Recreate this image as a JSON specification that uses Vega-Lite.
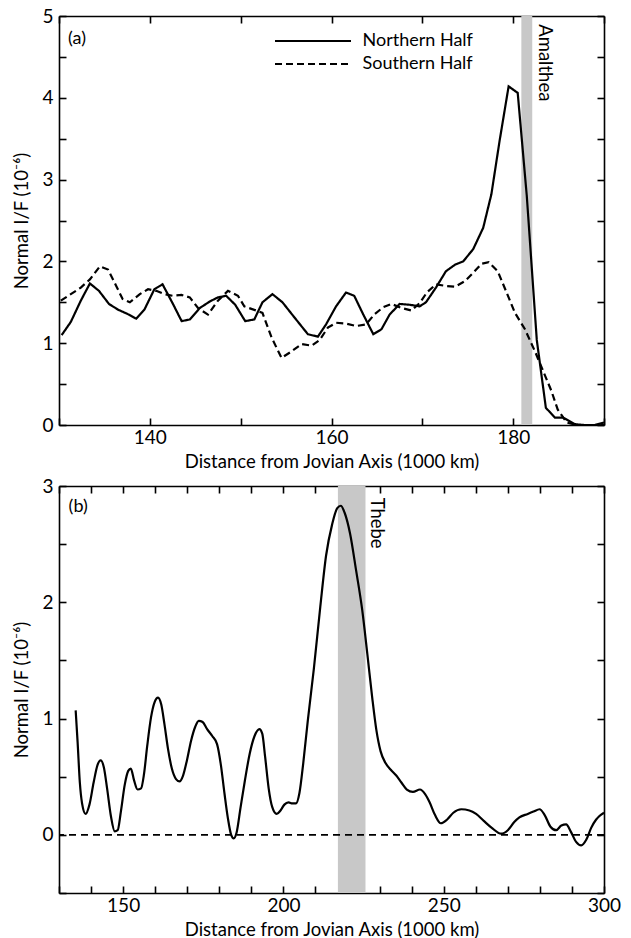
{
  "$schema": "https://vega.github.io/schema/vega-lite/v6.json",
  "padding": {"left": 12, "top": 7, "right": 5, "bottom": 5},
  "background": "white",
  "spacing": 6,
  "datasets": {
    "a": [
      {"x": 130.3, "y": 1.10, "series": "Northern Half"},
      {"x": 131.3, "y": 1.26, "series": "Northern Half"},
      {"x": 132.4, "y": 1.52, "series": "Northern Half"},
      {"x": 133.4, "y": 1.73, "series": "Northern Half"},
      {"x": 134.4, "y": 1.64, "series": "Northern Half"},
      {"x": 135.5, "y": 1.48, "series": "Northern Half"},
      {"x": 136.5, "y": 1.41, "series": "Northern Half"},
      {"x": 137.5, "y": 1.36, "series": "Northern Half"},
      {"x": 138.5, "y": 1.30, "series": "Northern Half"},
      {"x": 139.4, "y": 1.41, "series": "Northern Half"},
      {"x": 140.5, "y": 1.66, "series": "Northern Half"},
      {"x": 141.4, "y": 1.72, "series": "Northern Half"},
      {"x": 142.5, "y": 1.49, "series": "Northern Half"},
      {"x": 143.5, "y": 1.27, "series": "Northern Half"},
      {"x": 144.4, "y": 1.29, "series": "Northern Half"},
      {"x": 145.5, "y": 1.43, "series": "Northern Half"},
      {"x": 146.6, "y": 1.51, "series": "Northern Half"},
      {"x": 147.5, "y": 1.56, "series": "Northern Half"},
      {"x": 148.4, "y": 1.58, "series": "Northern Half"},
      {"x": 149.4, "y": 1.47, "series": "Northern Half"},
      {"x": 150.5, "y": 1.27, "series": "Northern Half"},
      {"x": 151.5, "y": 1.29, "series": "Northern Half"},
      {"x": 152.4, "y": 1.50, "series": "Northern Half"},
      {"x": 153.5, "y": 1.60, "series": "Northern Half"},
      {"x": 154.6, "y": 1.50, "series": "Northern Half"},
      {"x": 156.1, "y": 1.29, "series": "Northern Half"},
      {"x": 157.4, "y": 1.11, "series": "Northern Half"},
      {"x": 158.5, "y": 1.08, "series": "Northern Half"},
      {"x": 159.4, "y": 1.23, "series": "Northern Half"},
      {"x": 160.5, "y": 1.45, "series": "Northern Half"},
      {"x": 161.6, "y": 1.62, "series": "Northern Half"},
      {"x": 162.5, "y": 1.58, "series": "Northern Half"},
      {"x": 163.5, "y": 1.35, "series": "Northern Half"},
      {"x": 164.6, "y": 1.11, "series": "Northern Half"},
      {"x": 165.5, "y": 1.17, "series": "Northern Half"},
      {"x": 166.4, "y": 1.35, "series": "Northern Half"},
      {"x": 167.5, "y": 1.48, "series": "Northern Half"},
      {"x": 168.6, "y": 1.47, "series": "Northern Half"},
      {"x": 169.7, "y": 1.45, "series": "Northern Half"},
      {"x": 170.4, "y": 1.50, "series": "Northern Half"},
      {"x": 171.5, "y": 1.68, "series": "Northern Half"},
      {"x": 172.6, "y": 1.88, "series": "Northern Half"},
      {"x": 173.6, "y": 1.96, "series": "Northern Half"},
      {"x": 174.5, "y": 2.00, "series": "Northern Half"},
      {"x": 175.6, "y": 2.15, "series": "Northern Half"},
      {"x": 176.7, "y": 2.41, "series": "Northern Half"},
      {"x": 177.6, "y": 2.82, "series": "Northern Half"},
      {"x": 178.5, "y": 3.47, "series": "Northern Half"},
      {"x": 179.5, "y": 4.14, "series": "Northern Half"},
      {"x": 180.5, "y": 4.06, "series": "Northern Half"},
      {"x": 181.5, "y": 2.80, "series": "Northern Half"},
      {"x": 182.6, "y": 1.04, "series": "Northern Half"},
      {"x": 183.6, "y": 0.21, "series": "Northern Half"},
      {"x": 184.6, "y": 0.09, "series": "Northern Half"},
      {"x": 185.5, "y": 0.09, "series": "Northern Half"},
      {"x": 186.8, "y": 0.01, "series": "Northern Half"},
      {"x": 187.8, "y": 0.0, "series": "Northern Half"},
      {"x": 189.0, "y": 0.0, "series": "Northern Half"},
      {"x": 190.0, "y": 0.03, "series": "Northern Half"},
      {"x": 130.2, "y": 1.52, "series": "Southern Half"},
      {"x": 131.3, "y": 1.60, "series": "Southern Half"},
      {"x": 132.4, "y": 1.68, "series": "Southern Half"},
      {"x": 133.4, "y": 1.78, "series": "Southern Half"},
      {"x": 134.5, "y": 1.94, "series": "Southern Half"},
      {"x": 135.4, "y": 1.90, "series": "Southern Half"},
      {"x": 136.3, "y": 1.70, "series": "Southern Half"},
      {"x": 137.0, "y": 1.54, "series": "Southern Half"},
      {"x": 137.8, "y": 1.50, "series": "Southern Half"},
      {"x": 138.9, "y": 1.60, "series": "Southern Half"},
      {"x": 139.8, "y": 1.66, "series": "Southern Half"},
      {"x": 140.7, "y": 1.64, "series": "Southern Half"},
      {"x": 141.6, "y": 1.60, "series": "Southern Half"},
      {"x": 142.5, "y": 1.58, "series": "Southern Half"},
      {"x": 143.5, "y": 1.59, "series": "Southern Half"},
      {"x": 144.4, "y": 1.56, "series": "Southern Half"},
      {"x": 145.3, "y": 1.43, "series": "Southern Half"},
      {"x": 146.4, "y": 1.35, "series": "Southern Half"},
      {"x": 147.5, "y": 1.52, "series": "Southern Half"},
      {"x": 148.6, "y": 1.64, "series": "Southern Half"},
      {"x": 149.7, "y": 1.58, "series": "Southern Half"},
      {"x": 150.4, "y": 1.45, "series": "Southern Half"},
      {"x": 151.7, "y": 1.40, "series": "Southern Half"},
      {"x": 152.4, "y": 1.37, "series": "Southern Half"},
      {"x": 153.4, "y": 1.07, "series": "Southern Half"},
      {"x": 154.5, "y": 0.82, "series": "Southern Half"},
      {"x": 155.6, "y": 0.90, "series": "Southern Half"},
      {"x": 156.7, "y": 0.99, "series": "Southern Half"},
      {"x": 157.8, "y": 0.97, "series": "Southern Half"},
      {"x": 158.7, "y": 1.04, "series": "Southern Half"},
      {"x": 159.6, "y": 1.19, "series": "Southern Half"},
      {"x": 160.5, "y": 1.25, "series": "Southern Half"},
      {"x": 161.6, "y": 1.24, "series": "Southern Half"},
      {"x": 162.7, "y": 1.21, "series": "Southern Half"},
      {"x": 163.8, "y": 1.23, "series": "Southern Half"},
      {"x": 164.7, "y": 1.35, "series": "Southern Half"},
      {"x": 165.7, "y": 1.44, "series": "Southern Half"},
      {"x": 166.6, "y": 1.48, "series": "Southern Half"},
      {"x": 167.7, "y": 1.43, "series": "Southern Half"},
      {"x": 168.8, "y": 1.40, "series": "Southern Half"},
      {"x": 169.7, "y": 1.49, "series": "Southern Half"},
      {"x": 170.5, "y": 1.62, "series": "Southern Half"},
      {"x": 171.5, "y": 1.72, "series": "Southern Half"},
      {"x": 172.6, "y": 1.70, "series": "Southern Half"},
      {"x": 173.6, "y": 1.69, "series": "Southern Half"},
      {"x": 174.7, "y": 1.76, "series": "Southern Half"},
      {"x": 175.6, "y": 1.86, "series": "Southern Half"},
      {"x": 176.5, "y": 1.97, "series": "Southern Half"},
      {"x": 177.3, "y": 1.99, "series": "Southern Half"},
      {"x": 178.3, "y": 1.88, "series": "Southern Half"},
      {"x": 179.2, "y": 1.64, "series": "Southern Half"},
      {"x": 180.2, "y": 1.37, "series": "Southern Half"},
      {"x": 181.3, "y": 1.17, "series": "Southern Half"},
      {"x": 182.4, "y": 0.90, "series": "Southern Half"},
      {"x": 183.3, "y": 0.66, "series": "Southern Half"},
      {"x": 184.2, "y": 0.42, "series": "Southern Half"},
      {"x": 184.9, "y": 0.19, "series": "Southern Half"},
      {"x": 185.9, "y": 0.03, "series": "Southern Half"},
      {"x": 187.0, "y": 0.0, "series": "Southern Half"},
      {"x": 190.0, "y": 0.0, "series": "Southern Half"}
    ],
    "b": [
      {"x": 135.2, "y": 1.07}, {"x": 135.8, "y": 0.80}, {"x": 136.5, "y": 0.45}, {"x": 137.2, "y": 0.27},
      {"x": 138.3, "y": 0.18}, {"x": 139.5, "y": 0.26}, {"x": 140.8, "y": 0.45}, {"x": 142.0, "y": 0.60},
      {"x": 143.0, "y": 0.64}, {"x": 144.0, "y": 0.58}, {"x": 145.0, "y": 0.40}, {"x": 146.2, "y": 0.16},
      {"x": 147.4, "y": 0.03}, {"x": 148.3, "y": 0.04}, {"x": 149.3, "y": 0.20}, {"x": 150.5, "y": 0.43},
      {"x": 151.6, "y": 0.55}, {"x": 152.4, "y": 0.57}, {"x": 153.4, "y": 0.47}, {"x": 154.5, "y": 0.39},
      {"x": 155.6, "y": 0.40}, {"x": 156.5, "y": 0.52}, {"x": 157.5, "y": 0.76}, {"x": 158.7, "y": 1.01},
      {"x": 159.8, "y": 1.14}, {"x": 160.9, "y": 1.18}, {"x": 161.9, "y": 1.12}, {"x": 162.9, "y": 0.95},
      {"x": 164.0, "y": 0.74}, {"x": 165.2, "y": 0.57}, {"x": 166.5, "y": 0.48}, {"x": 167.6, "y": 0.46},
      {"x": 168.7, "y": 0.51}, {"x": 169.9, "y": 0.64}, {"x": 171.2, "y": 0.81}, {"x": 172.5, "y": 0.93},
      {"x": 173.6, "y": 0.98}, {"x": 174.8, "y": 0.97}, {"x": 176.2, "y": 0.91}, {"x": 177.8, "y": 0.85},
      {"x": 179.3, "y": 0.78}, {"x": 180.5, "y": 0.60}, {"x": 181.6, "y": 0.36}, {"x": 182.7, "y": 0.14},
      {"x": 183.7, "y": 0.0}, {"x": 184.5, "y": -0.03}, {"x": 185.4, "y": 0.02}, {"x": 186.6, "y": 0.23},
      {"x": 188.0, "y": 0.47}, {"x": 189.5, "y": 0.70}, {"x": 191.0, "y": 0.85}, {"x": 192.5, "y": 0.91},
      {"x": 193.4, "y": 0.87}, {"x": 194.3, "y": 0.67}, {"x": 195.4, "y": 0.40}, {"x": 196.5, "y": 0.24},
      {"x": 197.9, "y": 0.18}, {"x": 199.1, "y": 0.21}, {"x": 200.3, "y": 0.26}, {"x": 201.6, "y": 0.28},
      {"x": 202.8, "y": 0.27}, {"x": 203.9, "y": 0.27}, {"x": 205.0, "y": 0.36}, {"x": 206.2, "y": 0.62},
      {"x": 207.6, "y": 0.98}, {"x": 209.5, "y": 1.43}, {"x": 211.5, "y": 1.96}, {"x": 213.3, "y": 2.40},
      {"x": 215.2, "y": 2.67}, {"x": 216.8, "y": 2.81}, {"x": 217.9, "y": 2.83}, {"x": 219.1, "y": 2.77},
      {"x": 220.8, "y": 2.59}, {"x": 222.7, "y": 2.27}, {"x": 224.6, "y": 1.93}, {"x": 226.2, "y": 1.55},
      {"x": 227.7, "y": 1.18}, {"x": 229.0, "y": 0.90}, {"x": 230.3, "y": 0.72}, {"x": 231.8, "y": 0.62},
      {"x": 233.5, "y": 0.56}, {"x": 235.2, "y": 0.51}, {"x": 236.8, "y": 0.45}, {"x": 238.5, "y": 0.39},
      {"x": 240.4, "y": 0.37}, {"x": 242.6, "y": 0.39}, {"x": 244.2, "y": 0.35}, {"x": 245.6, "y": 0.28},
      {"x": 247.3, "y": 0.17}, {"x": 249.1, "y": 0.10}, {"x": 251.0, "y": 0.13}, {"x": 253.0, "y": 0.19},
      {"x": 255.5, "y": 0.22}, {"x": 258.0, "y": 0.21}, {"x": 260.1, "y": 0.18}, {"x": 262.5, "y": 0.12},
      {"x": 265.0, "y": 0.06}, {"x": 267.9, "y": 0.01}, {"x": 270.0, "y": 0.04}, {"x": 272.0, "y": 0.11},
      {"x": 273.6, "y": 0.15}, {"x": 276.2, "y": 0.18}, {"x": 278.0, "y": 0.20}, {"x": 279.9, "y": 0.22},
      {"x": 281.5, "y": 0.17}, {"x": 283.3, "y": 0.07}, {"x": 285.1, "y": 0.04}, {"x": 286.7, "y": 0.08},
      {"x": 288.2, "y": 0.09}, {"x": 289.6, "y": 0.03}, {"x": 291.3, "y": -0.06}, {"x": 292.9, "y": -0.09},
      {"x": 294.5, "y": -0.04}, {"x": 296.0, "y": 0.06}, {"x": 297.5, "y": 0.13}, {"x": 298.5, "y": 0.16},
      {"x": 300.0, "y": 0.19}
    ]
  },
  "vconcat": [
    {
      "width": 545,
      "height": 409,
      "resolve": {"axis": {"x": "independent", "y": "independent"}},
      "layer": [
        {
          "data": {"values": [{"band": "Amalthea"}]},
          "mark": {"type": "rect", "color": "#c8c8c8"},
          "encoding": {
            "x": {"datum": 180.9, "type": "quantitative", "axis": null},
            "x2": {"datum": 182.1}
          }
        },
        {
          "data": {"name": "a"},
          "mark": {"type": "line", "color": "black", "strokeWidth": 2.2},
          "encoding": {
            "x": {
              "field": "x", "type": "quantitative",
              "scale": {"domain": [130, 190], "nice": false, "zero": false},
              "axis": {
                "title": "Distance from Jovian Axis (1000 km)",
                "values": [130, 140, 150, 160, 170, 180, 190],
                "labelExpr": "datum.value % 20 === 0 ? '' + datum.value : ''"
              }
            },
            "y": {
              "field": "y", "type": "quantitative",
              "scale": {"domain": [0, 5], "nice": false},
              "axis": {
                "title": "Normal I/F (10⁻⁶)",
                "values": [0, 0.5, 1, 1.5, 2, 2.5, 3, 3.5, 4, 4.5, 5],
                "labelExpr": "datum.value % 1 === 0 ? '' + datum.value : ''"
              }
            },
            "strokeDash": {
              "field": "series", "type": "nominal",
              "scale": {"domain": ["Northern Half", "Southern Half"], "range": [[1, 0], [7, 4]]},
              "legend": {
                "title": null, "orient": "none", "legendX": 243, "legendY": 14,
                "symbolType": "M-4,0H4", "symbolSize": 361, "symbolStrokeWidth": 2.2,
                "symbolStrokeColor": "black", "symbolFillColor": "transparent", "labelFontSize": 18, "labelFont": "Lato",
                "labelColor": "black", "labelOffset": 38.5, "rowPadding": 3, "padding": 0
              }
            }
          }
        },
        {
          "data": {"values": [{"label": "Amalthea"}]},
          "mark": {"type": "text", "angle": 90, "align": "left", "baseline": "bottom", "fontSize": 18.5, "font": "Lato", "color": "black"},
          "encoding": {
            "text": {"field": "label"},
            "x": {"datum": 182.4, "type": "quantitative", "axis": null},
            "y": {"datum": 4.9, "type": "quantitative", "axis": null}
          }
        },
        {
          "data": {"values": [{"label": "(a)"}]},
          "mark": {"type": "text", "align": "left", "baseline": "middle", "fontSize": 18, "font": "Lato", "color": "black"},
          "encoding": {
            "text": {"field": "label"},
            "x": {
              "datum": 131.0, "type": "quantitative",
              "scale": {"domain": [130, 190], "nice": false, "zero": false},
              "axis": {"orient": "top", "title": null, "labels": false, "values": [130, 140, 150, 160, 170, 180, 190]}
            },
            "y": {
              "datum": 4.72, "type": "quantitative",
              "scale": {"domain": [0, 5], "nice": false},
              "axis": {"orient": "right", "title": null, "labels": false, "values": [0, 0.5, 1, 1.5, 2, 2.5, 3, 3.5, 4, 4.5, 5]}
            }
          }
        }
      ]
    },
    {
      "width": 545,
      "height": 407,
      "resolve": {"axis": {"x": "independent", "y": "independent"}},
      "layer": [
        {
          "data": {"values": [{"band": "Thebe"}]},
          "mark": {"type": "rect", "color": "#c8c8c8"},
          "encoding": {
            "x": {"datum": 217.0, "type": "quantitative", "axis": null},
            "x2": {"datum": 225.6}
          }
        },
        {
          "data": {"values": [{"level": 0}]},
          "mark": {"type": "rule", "color": "black", "strokeWidth": 1.6, "strokeDash": [7, 5]},
          "encoding": {
            "y": {"field": "level", "type": "quantitative", "axis": null}
          }
        },
        {
          "data": {"name": "b"},
          "mark": {"type": "line", "color": "black", "strokeWidth": 2.2, "interpolate": "monotone"},
          "encoding": {
            "x": {
              "field": "x", "type": "quantitative",
              "scale": {"domain": [130, 300], "nice": false, "zero": false},
              "axis": {
                "title": "Distance from Jovian Axis (1000 km)",
                "values": [130, 140, 150, 160, 170, 180, 190, 200, 210, 220, 230, 240, 250, 260, 270, 280, 290, 300],
                "labelExpr": "datum.value % 50 === 0 ? '' + datum.value : ''"
              }
            },
            "y": {
              "field": "y", "type": "quantitative",
              "scale": {"domain": [-0.5, 3], "nice": false, "zero": false},
              "axis": {
                "title": "Normal I/F (10⁻⁶)",
                "values": [-0.5, 0, 0.5, 1, 1.5, 2, 2.5, 3],
                "labelExpr": "datum.value % 1 === 0 ? '' + datum.value : ''"
              }
            }
          }
        },
        {
          "data": {"values": [{"label": "Thebe"}]},
          "mark": {"type": "text", "angle": 90, "align": "left", "baseline": "bottom", "fontSize": 18.5, "font": "Lato", "color": "black"},
          "encoding": {
            "text": {"field": "label"},
            "x": {"datum": 226.0, "type": "quantitative", "axis": null},
            "y": {"datum": 2.9, "type": "quantitative", "axis": null}
          }
        },
        {
          "data": {"values": [{"label": "(b)"}]},
          "mark": {"type": "text", "align": "left", "baseline": "middle", "fontSize": 18, "font": "Lato", "color": "black"},
          "encoding": {
            "text": {"field": "label"},
            "x": {
              "datum": 133.0, "type": "quantitative",
              "scale": {"domain": [130, 300], "nice": false, "zero": false},
              "axis": {"orient": "top", "title": null, "labels": false, "values": [130, 140, 150, 160, 170, 180, 190, 200, 210, 220, 230, 240, 250, 260, 270, 280, 290, 300]}
            },
            "y": {
              "datum": 2.82, "type": "quantitative",
              "scale": {"domain": [-0.5, 3], "nice": false, "zero": false},
              "axis": {"orient": "right", "title": null, "labels": false, "values": [-0.5, 0, 0.5, 1, 1.5, 2, 2.5, 3]}
            }
          }
        }
      ]
    }
  ],
  "config": {
    "font": "Lato",
    "view": {"stroke": null},
    "axis": {
      "grid": false,
      "ticks": true,
      "zindex": 1,
      "domainColor": "black",
      "domainWidth": 1.6,
      "tickColor": "black",
      "tickWidth": 1.6,
      "tickSize": -7,
      "labelFont": "Lato",
      "labelFontSize": 19,
      "labelColor": "black",
      "labelOverlap": false,
      "labelFlush": false,
      "titleFont": "Lato",
      "titleFontSize": 18.5,
      "titleFontWeight": "normal",
      "titleColor": "black"
    },
    "axisLeft": {"labelPadding": 13, "titlePadding": 10},
    "axisBottom": {"labelPadding": 10, "titlePadding": 5}
  }
}
